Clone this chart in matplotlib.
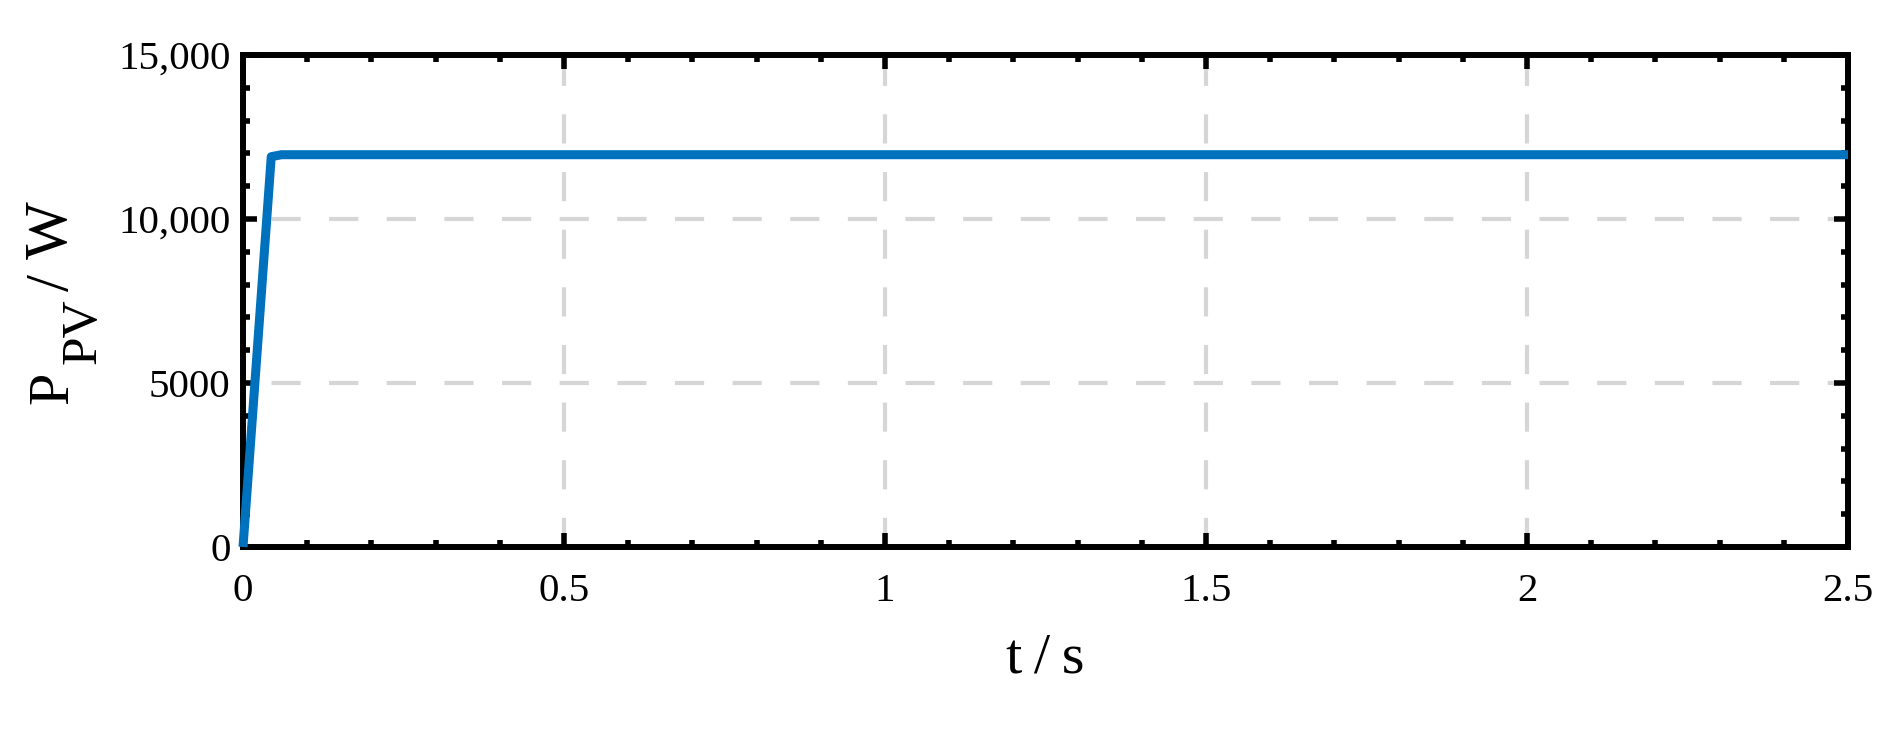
import matplotlib
matplotlib.use("Agg")
import matplotlib.pyplot as plt
from matplotlib.ticker import MultipleLocator

plt.rcParams["font.family"] = ["Liberation Serif", "DejaVu Serif"]

# PV power response
t_s = [0.0, 0.02, 0.044, 0.06, 0.5, 1.0, 1.5, 2.0, 2.5]
p_pv = [0, 5400, 11900, 11960, 11960, 11960, 11960, 11960, 11960]

x_ticks = [0, 0.5, 1, 1.5, 2, 2.5]
x_tick_labels = ["0", "0.5", "1", "1.5", "2", "2.5"]
y_ticks = [0, 5000, 10000, 15000]
y_tick_labels = ["0", "5000", "10,000", "15,000"]

W, H = 1894, 734
fig = plt.figure(figsize=(W / 100, H / 100), dpi=100)
ax = fig.add_axes([243 / W, 1 - 547 / H, (1848 - 243) / W, (547 - 55) / H])

ax.plot(t_s, p_pv, color="#0072BD", lw=6.5, zorder=3, clip_on=False,
        solid_joinstyle="round", solid_capstyle="butt")

ax.set_xlim(0, 2.5)
ax.set_ylim(0, 15000)
ax.set_xticks(x_ticks)
ax.set_xticklabels(x_tick_labels)
ax.set_yticks(y_ticks)
ax.set_yticklabels(y_tick_labels)
ax.xaxis.set_minor_locator(MultipleLocator(0.1))
ax.yaxis.set_minor_locator(MultipleLocator(1000))

ax.tick_params(which="both", direction="in", top=True, right=True,
               width=4, color="black")
ax.tick_params(which="major", length=10, labelsize=29.5)
ax.tick_params(axis="x", which="major", pad=19)
ax.tick_params(axis="y", which="major", pad=9)
ax.tick_params(which="minor", length=5)

for sp in ax.spines.values():
    sp.set_linewidth(4.3)
    sp.set_zorder(2.5)

# dashed grid, light grey
grid_lw = 3
on, off = 21 / grid_lw, 20.5 / grid_lw
ax.xaxis.grid(True, color="#d6d6d6", lw=grid_lw, linestyle=(0, (on, off)))
ax.yaxis.grid(True, color="#d6d6d6", lw=grid_lw, linestyle=(on, (on, off)))
ax.set_axisbelow(True)

ax.set_xlabel("t\u2009/\u2009s", fontsize=42, labelpad=16)

# y label: P_PV/W built from pieces so the subscript keeps its size
def fx(px):
    return px / W

def fy(py):
    return 1 - py / H

kw = dict(rotation=90, rotation_mode="anchor", ha="left", va="baseline")
fig.text(fx(67), fy(404), "P", fontsize=42, **kw)
fig.text(fx(96), fy(364), "PV", fontsize=37, **kw)
fig.text(fx(68), fy(291), "/", fontsize=44, **kw)
fig.text(fx(67), fy(259), "W", fontsize=44, **kw)

fig.savefig("out.png", dpi=100)
